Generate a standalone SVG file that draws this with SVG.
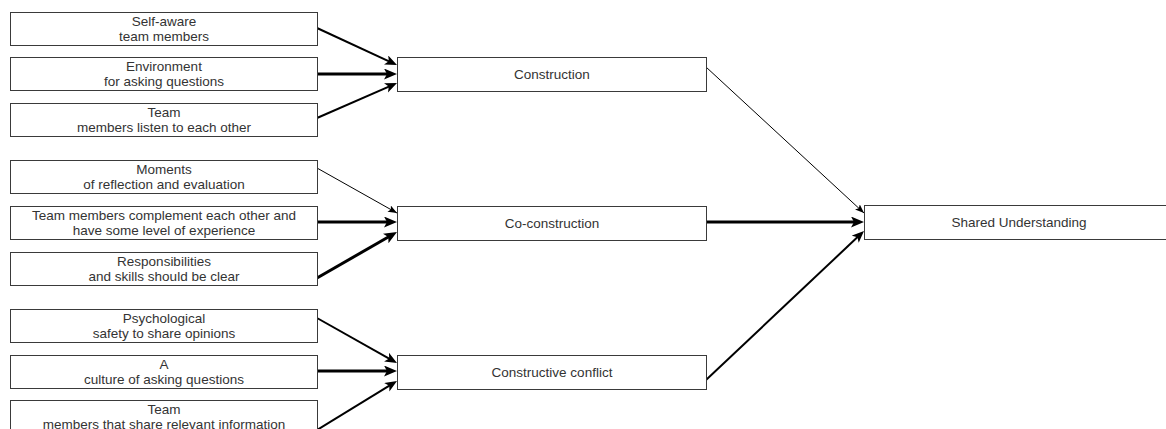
<svg xmlns="http://www.w3.org/2000/svg" width="1166" height="429" viewBox="0 0 1166 429">
  <style>
    .box { fill: #ffffff; stroke: #3a3a3a; stroke-width: 1; }
    .lbl { font-family: "Liberation Sans", Arial, sans-serif; font-size: 13.5px; fill: #333333; text-anchor: middle; }
    .e1 { fill: none; stroke: #000; stroke-width: 1; marker-end: url(#a1); }
    .e2 { fill: none; stroke: #000; stroke-width: 2; marker-end: url(#a2); }
    .e3 { fill: none; stroke: #000; stroke-width: 3; marker-end: url(#a3); }
  </style>
  <defs>
    <marker id="a1" markerUnits="userSpaceOnUse" markerWidth="10" markerHeight="8" refX="9" refY="3.5" orient="auto">
      <path d="M0,0 L9,3.5 L0,7 L2,3.5 Z" fill="#000"/>
    </marker>
    <marker id="a2" markerUnits="userSpaceOnUse" markerWidth="13" markerHeight="11" refX="5" refY="5" orient="auto">
      <path d="M0,0 L12,5 L0,10 L3,5 Z" fill="#000"/>
    </marker>
    <marker id="a3" markerUnits="userSpaceOnUse" markerWidth="14" markerHeight="12" refX="5" refY="5.5" orient="auto">
      <path d="M0,0 L13,5.5 L0,11 L3,5.5 Z" fill="#000"/>
    </marker>
  </defs>

  <!-- Connectors -->
  <g id="edges">
    <path class="e2" d="M317,28 L390.65,62.06"/>
    <path class="e3" d="M317,74 L389,74"/>
    <path class="e2" d="M317,118 L390.59,85.81"/>

    <path class="e1" d="M317,168 L397,213"/>
    <path class="e3" d="M317,222 L389,222"/>
    <path class="e3" d="M317,278 L390.06,235.99"/>

    <path class="e2" d="M317,318 L390.9,359.57"/>
    <path class="e3" d="M317,371 L389,371"/>
    <path class="e2" d="M317,430 L391.03,384.66"/>

    <path class="e1" d="M706,67 L864,213"/>
    <path class="e3" d="M706,222 L856,222"/>
    <path class="e2" d="M706,380 L858.91,235.8"/>
  </g>

  <!-- Factors feeding Construction -->
  <g id="self-aware">
    <rect class="box" x="10.5" y="12.5" width="307" height="33"/>
    <text class="lbl" x="164" y="26">Self-aware</text>
    <text class="lbl" x="164" y="41">team members</text>
  </g>
  <g id="environment">
    <rect class="box" x="10.5" y="57.5" width="307" height="33"/>
    <text class="lbl" x="164" y="71">Environment</text>
    <text class="lbl" x="164" y="86">for asking questions</text>
  </g>
  <g id="listen">
    <rect class="box" x="10.5" y="103.5" width="307" height="33"/>
    <text class="lbl" x="164" y="117">Team</text>
    <text class="lbl" x="164" y="132">members listen to each other</text>
  </g>

  <!-- Factors feeding Co-construction -->
  <g id="reflection">
    <rect class="box" x="10.5" y="160.5" width="307" height="33"/>
    <text class="lbl" x="164" y="174">Moments</text>
    <text class="lbl" x="164" y="189">of reflection and evaluation</text>
  </g>
  <g id="complement">
    <rect class="box" x="10.5" y="206.5" width="307" height="33"/>
    <text class="lbl" x="164" y="220">Team members complement each other and</text>
    <text class="lbl" x="164" y="235">have some level of experience</text>
  </g>
  <g id="responsibilities">
    <rect class="box" x="10.5" y="252.5" width="307" height="33"/>
    <text class="lbl" x="164" y="266">Responsibilities</text>
    <text class="lbl" x="164" y="281">and skills should be clear</text>
  </g>

  <!-- Factors feeding Constructive conflict -->
  <g id="psych-safety">
    <rect class="box" x="10.5" y="309.5" width="307" height="33"/>
    <text class="lbl" x="164" y="323">Psychological</text>
    <text class="lbl" x="164" y="338">safety to share opinions</text>
  </g>
  <g id="culture">
    <rect class="box" x="10.5" y="355.5" width="307" height="33"/>
    <text class="lbl" x="164" y="369">A</text>
    <text class="lbl" x="164" y="384">culture of asking questions</text>
  </g>
  <g id="share-info">
    <rect class="box" x="10.5" y="400.5" width="307" height="33"/>
    <text class="lbl" x="164" y="414">Team</text>
    <text class="lbl" x="164" y="429">members that share relevant information</text>
  </g>

  <!-- Processes -->
  <g id="construction">
    <rect class="box" x="397.5" y="57.5" width="309" height="34"/>
    <text class="lbl" x="552" y="79">Construction</text>
  </g>
  <g id="co-construction">
    <rect class="box" x="397.5" y="206.5" width="309" height="34"/>
    <text class="lbl" x="552" y="228">Co-construction</text>
  </g>
  <g id="constructive-conflict">
    <rect class="box" x="397.5" y="355.5" width="309" height="34"/>
    <text class="lbl" x="552" y="377">Constructive conflict</text>
  </g>

  <!-- Outcome -->
  <g id="shared-understanding">
    <rect class="box" x="864.5" y="205.5" width="320" height="34"/>
    <text class="lbl" x="1019" y="227">Shared Understanding</text>
  </g>
</svg>
